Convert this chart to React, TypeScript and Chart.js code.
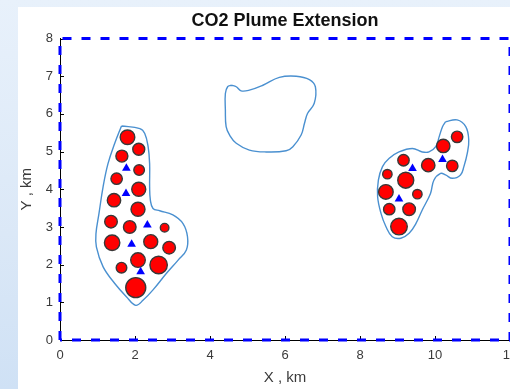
import React, { useEffect, useRef } from "react";
import { Chart, registerables } from "chart.js";

Chart.register(...registerables);

const chartTitle = "CO2 Plume Extension";
const xAxisTitle = "X , km";
const yAxisTitle = "Y , km";
const xRange = [0, 12];
const yRange = [0, 8];
const xStep = 2;
const yStep = 1;

// Wells (red circles): x, y (km) and marker radius
const wellX = [1.8, 2.1, 1.65, 2.11, 1.51, 2.1, 1.44, 2.08, 1.36, 1.86, 2.79, 1.39, 2.42, 2.91, 2.08, 1.64, 2.63, 2.02,
  10.59, 10.22, 10.46, 9.82, 9.16, 8.73, 9.22, 8.69, 9.53, 8.78, 9.31, 9.04];
const wellY = [5.38, 5.06, 4.88, 4.51, 4.28, 4.0, 3.71, 3.47, 3.14, 3.0, 2.98, 2.58, 2.61, 2.45, 2.12, 1.92, 1.99, 1.39,
  5.39, 5.15, 4.62, 4.64, 4.77, 4.4, 4.24, 3.93, 3.87, 3.47, 3.47, 3.01];
const wellR = [7.3, 6, 6, 5.3, 5.7, 7, 6.7, 7, 6.3, 6.3, 4.3, 7.7, 7, 6.3, 7.3, 5.3, 8.7, 10,
  5.7, 6.7, 5.7, 6.7, 5.7, 4.7, 8, 7.3, 4.7, 5.7, 6.3, 8.3];

// Injectors (blue triangles)
const injX = [1.77, 1.76, 2.33, 1.91, 2.15, 10.2, 9.4, 9.04];
const injY = [4.56, 3.89, 3.05, 2.54, 1.81, 4.79, 4.55, 3.74];

// Plume contours
const plumeLeftX = [1.64, 2.13, 2.26, 2.35, 2.39, 2.39, 2.41, 2.48, 2.66, 3.01, 3.28, 3.4, 3.37, 3.15, 2.84, 2.48, 2.22, 2.02, 1.77, 1.46, 1.15, 0.97, 0.96, 1.04, 1.15, 1.28, 1.46, 1.64];
const plumeLeftY = [5.68, 5.61, 5.48, 5.13, 4.68, 4.07, 3.71, 3.49, 3.43, 3.32, 3.09, 2.74, 2.39, 2.12, 1.77, 1.33, 1.06, 0.92, 1.15, 1.5, 1.94, 2.47, 2.83, 3.36, 4.07, 4.68, 5.22, 5.68];
const plumeMidX = [4.57, 4.7, 4.83, 5.05, 5.41, 5.85, 6.3, 6.65, 6.81, 6.78, 6.6, 6.52, 6.43, 6.21, 6.03, 5.5, 5.05, 4.7, 4.52, 4.43, 4.41, 4.41, 4.47, 4.57];
const plumeMidY = [6.76, 6.72, 6.61, 6.63, 6.76, 6.97, 7.0, 6.91, 6.72, 6.28, 6.01, 5.75, 5.44, 5.13, 5.02, 4.99, 5.04, 5.22, 5.44, 5.66, 6.1, 6.54, 6.72, 6.76];
const plumeRightX = [10.28, 10.59, 10.82, 10.9, 10.86, 10.77, 10.68, 10.46, 10.28, 10.15, 9.97, 9.88, 9.66, 9.49, 9.31, 9.09, 8.86, 8.69, 8.56, 8.47, 8.49, 8.6, 8.78, 9.04, 9.4, 9.66, 9.84, 10.02, 10.11, 10.2, 10.28];
const plumeRightY = [5.79, 5.84, 5.66, 5.31, 4.95, 4.6, 4.38, 4.29, 4.38, 4.42, 4.24, 3.89, 3.45, 3.09, 2.83, 2.7, 2.74, 3.01, 3.36, 3.8, 4.24, 4.6, 4.82, 4.99, 5.08, 4.99, 4.99, 5.13, 5.39, 5.66, 5.79];

// Domain boundary (dashed)
const boundaryX = [0, 0, 12, 12, 0];
const boundaryY = [0, 8, 8, 0, 0];

const pts = (xs: number[], ys: number[]) => xs.map((x, i) => ({ x, y: ys[i] }));

const FONT = "'Liberation Sans', Arial, Helvetica, sans-serif";
const TEXT_COLOR = "#3a3a3a";

const innerTicks = {
  id: "innerTicks",
  beforeDatasetsDraw(chart: any) {
    const { ctx, chartArea, scales } = chart;
    ctx.save();
    ctx.strokeStyle = "#000";
    ctx.lineWidth = 1;
    ctx.beginPath();
    scales.y.ticks.forEach((t: any) => {
      const y = Math.round(scales.y.getPixelForValue(t.value)) + 0.5;
      ctx.moveTo(chartArea.left, y);
      ctx.lineTo(chartArea.left + 4, y);
    });
    scales.x.ticks.forEach((t: any) => {
      const x = Math.round(scales.x.getPixelForValue(t.value)) + 0.5;
      ctx.moveTo(x, chartArea.bottom);
      ctx.lineTo(x, chartArea.bottom - 4);
    });
    ctx.stroke();
    ctx.restore();
  },
};

// Title centred over the plot area (not over the whole canvas)
const plotTitle = {
  id: "plotTitle",
  afterDraw(chart: any) {
    const { ctx, chartArea } = chart;
    ctx.save();
    ctx.font = `bold 18px ${FONT}`;
    ctx.fillStyle = "#111";
    ctx.textAlign = "center";
    ctx.textBaseline = "middle";
    ctx.fillText(chartTitle, (chartArea.left + chartArea.right) / 2, 14);
    ctx.restore();
  },
};

export default function App() {
  const ref = useRef<HTMLCanvasElement | null>(null);

  useEffect(() => {
    if (!ref.current) return;
    const contour = (xs: number[], ys: number[]) => ({
      type: "line" as const,
      data: pts(xs, ys),
      showLine: true,
      borderColor: "#4a90d0",
      borderWidth: 1.4,
      pointRadius: 0,
      tension: 0.4,
      fill: false,
    });
    const chart = new Chart(ref.current, {
      type: "scatter",
      data: {
        datasets: [
          {
            type: "scatter",
            data: pts(injX, injY),
            pointStyle: "triangle",
            pointRadius: 5,
            backgroundColor: "#0000ff",
            borderColor: "#0000ff",
            borderWidth: 0,
          } as any,
          {
            type: "bubble",
            data: wellX.map((x, i) => ({ x, y: wellY[i], r: wellR[i] })),
            backgroundColor: "#ff0000",
            borderColor: "#383838",
            borderWidth: 1.4,
          } as any,
          contour(plumeLeftX, plumeLeftY),
          contour(plumeMidX, plumeMidY),
          contour(plumeRightX, plumeRightY),
          {
            type: "line",
            data: pts(boundaryX, boundaryY),
            showLine: true,
            borderColor: "#0000ff",
            borderWidth: 3,
            borderDash: [9, 10],
            pointRadius: 0,
            tension: 0,
            fill: false,
            clip: false,
          } as any,
        ],
      },
      options: {
        animation: false,
        responsive: false,
        events: [],
        layout: { padding: { left: 0, right: 38, top: 31.5, bottom: 0 } },
        plugins: {
          legend: { display: false },
          tooltip: { enabled: false },
          title: { display: false },
        },
        scales: {
          x: {
            type: "linear",
            min: xRange[0],
            max: xRange[1],
            ticks: {
              stepSize: xStep,
              color: TEXT_COLOR,
              font: { family: FONT, size: 13 },
              padding: 8,
              maxRotation: 0,
            },
            grid: { display: true, drawOnChartArea: false, drawTicks: false },
            border: { display: true, color: "#000", width: 1 },
            title: {
              display: true,
              text: xAxisTitle,
              color: TEXT_COLOR,
              font: { family: FONT, size: 15 },
              padding: { top: 0, bottom: 2 },
            },
            afterFit: (s: any) => {
              s.height = 49;
            },
          },
          y: {
            type: "linear",
            min: yRange[0],
            max: yRange[1],
            ticks: {
              stepSize: yStep,
              color: TEXT_COLOR,
              font: { family: FONT, size: 13 },
              padding: 7,
            },
            grid: { display: true, drawOnChartArea: false, drawTicks: false },
            border: { display: true, color: "#000", width: 1 },
            title: {
              display: true,
              text: yAxisTitle,
              color: TEXT_COLOR,
              font: { family: FONT, size: 15 },
              padding: { top: 0, bottom: 0 },
            },
            afterFit: (s: any) => {
              s.width = 42;
            },
          },
        },
      },
      plugins: [innerTicks, plotTitle],
    } as any);
    return () => chart.destroy();
  }, []);

  return (
    <div
      style={{
        position: "fixed",
        left: 0,
        top: 0,
        width: 510,
        height: 389,
        overflow: "hidden",
        background: "linear-gradient(180deg, #e8f1fb 0%, #dbe8f7 60%, #cfe1f5 100%)",
      }}
    >
      <div
        style={{
          position: "absolute",
          left: 18,
          top: 7,
          width: 492,
          height: 382,
          overflow: "hidden",
          background: "#ffffff",
        }}
      >
        <canvas ref={ref} width={530} height={382} style={{ width: 530, height: 382, display: "block" }} />
      </div>
    </div>
  );
}
